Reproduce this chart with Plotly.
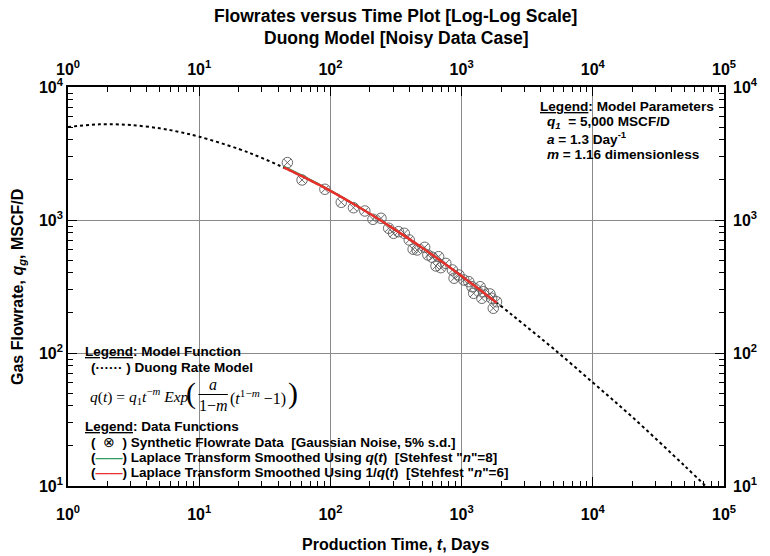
import plotly.graph_objects as go

# ---------------- data ----------------
model_t = [1, 1.5, 2, 3, 5, 7, 10, 20, 30, 50, 100, 200, 300, 500, 1000, 2000,
           3000, 5000, 10000, 20000, 50000, 80000]
model_q = [5000, 5200, 5250, 5180, 4890, 4600, 4230, 3420, 2930, 2340, 1660, 1110,
           865, 620, 380, 225, 163, 108, 60, 33, 14.2, 9.1]

data_t = [47, 60.8, 90.8, 121, 150, 183, 211, 243, 278, 303, 330, 366, 399, 427,
          458, 523, 553, 596, 638, 668, 695, 758, 851, 876, 955, 1040, 1134, 1200,
          1236, 1384, 1427, 1468, 1644, 1694, 1743, 1846]
data_q = [2700, 2000, 1702, 1358, 1237, 1169, 1012, 1030, 867, 794, 817, 794, 708,
          603, 595, 623, 546, 525, 451, 530, 438, 472, 421, 365, 386, 354, 344, 315,
          281, 315, 258, 289, 278, 258, 217, 243]

smooth_t = [44, 60, 80, 100, 150, 200, 300, 400, 500, 700, 1000, 1300, 1850]
green_q = [2540, 2180, 1880, 1670, 1325, 1118, 866, 719, 619, 490, 379, 312, 239]
red_q = [2490, 2150, 1860, 1656, 1319, 1114, 865, 718, 619, 490, 379, 312, 239]

x_ticks = [1, 10, 100, 1000, 10000, 100000]
x_ticktext = ["10<sup>0</sup>", "10<sup>1</sup>", "10<sup>2</sup>",
              "10<sup>3</sup>", "10<sup>4</sup>", "10<sup>5</sup>"]
y_ticks = [10, 100, 1000, 10000]
y_ticktext = ["10<sup>1</sup>", "10<sup>2</sup>", "10<sup>3</sup>", "10<sup>4</sup>"]

title_lines = ["Flowrates versus Time Plot [Log-Log Scale]",
               "Duong Model [Noisy Data Case]"]
x_title = "Production Time, <i>t</i>, Days"
y_title = "Gas Flowrate, <i>q<sub>g</sub></i>, MSCF/D"

# ---------------- styling ----------------
W, H = 770, 556
L, R, T, B = 68, 737, 87, 486
SANS = "Liberation Sans, Arial, sans-serif"
SERIF = "Liberation Serif, Times New Roman, serif"
GREEN = "#2e9e5e"
RED = "#e8302a"


def px(x):
    return (x - L) / (R - L)


def py(y):
    return (B - y) / (B - T)


def minor_vals(lo, hi):
    vals = []
    d = lo
    while d < hi:
        vals += [k * d for k in range(2, 10)]
        d *= 10
    return vals


fig = go.Figure()

fig.add_trace(go.Scatter(x=model_t, y=model_q, mode="lines",
                         line=dict(color="black", width=2, dash="3px,3px", shape="spline"),
                         showlegend=False, hoverinfo="skip"))
# same curve on the mirrored (top/right) axes, invisible, so those axes are drawn
fig.add_trace(go.Scatter(x=model_t, y=model_q, mode="lines", xaxis="x2", yaxis="y2",
                         line=dict(width=0), opacity=0, showlegend=False,
                         hoverinfo="skip"))
fig.add_trace(go.Scatter(x=data_t, y=data_q, mode="markers",
                         marker=dict(symbol="circle-x-open", size=10.5, color="#5a5a5a",
                                     line=dict(width=0.9)),
                         showlegend=False))
fig.add_trace(go.Scatter(x=smooth_t, y=green_q, mode="lines",
                         line=dict(color=GREEN, width=1.6, shape="spline"),
                         showlegend=False))
fig.add_trace(go.Scatter(x=smooth_t, y=red_q, mode="lines",
                         line=dict(color=RED, width=2.5, shape="spline"),
                         showlegend=False))

axis_common = dict(type="log", ticks="inside", ticklen=9, tickwidth=1.3,
                   tickcolor="black", showline=True, linecolor="black", linewidth=1.6,
                   tickfont=dict(family=SANS, size=16, color="black", weight="bold"),
                   zeroline=False)
minor_x = dict(ticks="inside", ticklen=5, tickwidth=1.2, tickcolor="black",
               tickvals=minor_vals(1, 100000), showgrid=False)
minor_y = dict(ticks="inside", ticklen=5, tickwidth=1.2, tickcolor="black",
               tickvals=minor_vals(10, 10000), showgrid=False)

fig.update_layout(
    width=W, height=H,
    margin=dict(l=L, r=W - R, t=T, b=H - B, pad=0),
    paper_bgcolor="white", plot_bgcolor="white",
    showlegend=False,
    xaxis=dict(axis_common, range=[0, 5], tickmode="array", tickvals=x_ticks,
               ticktext=x_ticktext, showgrid=True, gridcolor="#8a8a8a", gridwidth=1,
               ticklabelstandoff=13, minor=minor_x),
    xaxis2=dict(axis_common, range=[0, 5], overlaying="x", side="top", anchor="y2",
                tickmode="array", tickvals=x_ticks, ticktext=x_ticktext, showgrid=False,
                ticklabelstandoff=4, minor=minor_x),
    yaxis=dict(axis_common, range=[1, 4], tickmode="array", tickvals=y_ticks,
               ticktext=y_ticktext, showgrid=True, gridcolor="#8a8a8a", gridwidth=1,
               minor=minor_y),
    yaxis2=dict(axis_common, range=[1, 4], overlaying="y", side="right", anchor="x2",
                tickmode="array", tickvals=y_ticks, ticktext=y_ticktext, showgrid=False,
                ticklabelstandoff=4, minor=minor_y),
)

# white legend boxes covering the grid
for (x0, y0, x1, y1) in [(70, 342, 300, 416), (70, 418, 625, 484), (545, 89, 735, 165)]:
    fig.add_shape(type="rect", xref="paper", yref="paper",
                  x0=px(x0), x1=px(x1), y0=py(y1), y1=py(y0),
                  fillcolor="white", line=dict(width=0), layer="between")


def ann(text, x, y, size=12, family=SANS, xanchor="left", **kw):
    fig.add_annotation(text=text, x=px(x), y=py(y), xref="paper", yref="paper",
                       xanchor=xanchor, yanchor="middle", showarrow=False,
                       font=dict(family=family, size=size, color="black"), **kw)


# titles
ann("<b>" + title_lines[0] + "</b>", 402, 16, size=17.5, xanchor="center")
ann("<b>" + title_lines[1] + "</b>", 402, 38, size=17.5, xanchor="center")
ann("<b>" + x_title + "</b>", 402, 544, size=16, xanchor="center")
ann("<b>" + y_title + "</b>", 17, 287, size=16, xanchor="center", textangle=-90)

# parameters legend
ann("<b><u>Legend</u>: Model Parameters</b>", 547, 106, size=13.6)
ann("<b><i>q<sub>1</sub></i>  = 5,000 MSCF/D</b>", 554, 122, size=13.6)
ann("<b><i>a</i> = 1.3 Day<sup>-1</sup></b>", 554, 138, size=13.6)
ann("<b><i>m</i> = 1.16 dimensionless</b>", 554, 154, size=13.6)

# model function legend
ann("<b><u>Legend</u>: Model Function</b>", 83, 351, size=13.5)
ann("<b>(······ ) Duong Rate Model</b>", 89, 367, size=13.5)
ann("<i>q</i>(<i>t</i>) = <i>q</i><sub>1</sub><i>t</i><sup>−<i>m</i></sup> <i>Exp</i>",
    88, 396, size=15.5, family=SERIF)
ann("(", 186, 393, size=30, family=SERIF)
ann("<i>a</i>", 216, 384, size=16, family=SERIF, xanchor="center")
ann("1−<i>m</i>", 216, 405, size=16, family=SERIF, xanchor="center")
fig.add_shape(type="line", xref="paper", yref="paper", x0=px(201), x1=px(231),
              y0=py(394.5), y1=py(394.5), line=dict(color="black", width=1))
ann("(<i>t</i><sup>1−<i>m</i></sup> −1)", 231, 397, size=16, family=SERIF)
ann(")", 290, 393, size=30, family=SERIF)

# data functions legend
ann("<b><u>Legend</u>: Data Functions</b>", 83, 426, size=13.5)
ann("<b>(</b>  ⊗  <b>) Synthetic Flowrate Data  [Gaussian Noise, 5% s.d.]</b>",
    89, 442, size=13.5)
ann("<b>(<span style='color:" + GREEN + "'>——</span>) Laplace Transform Smoothed Using "
    "<i>q</i>(<i>t</i>)  [Stehfest \"<i>n</i>\"=8]</b>", 89, 457, size=13.5)
ann("<b>(<span style='color:" + RED + "'>——</span>) Laplace Transform Smoothed Using "
    "1/<i>q</i>(<i>t</i>)  [Stehfest \"<i>n</i>\"=6]</b>", 89, 472, size=13.5)

fig.write_html("out.html", config={"displayModeBar": False},
               post_script="document.body.style.margin='0';")
